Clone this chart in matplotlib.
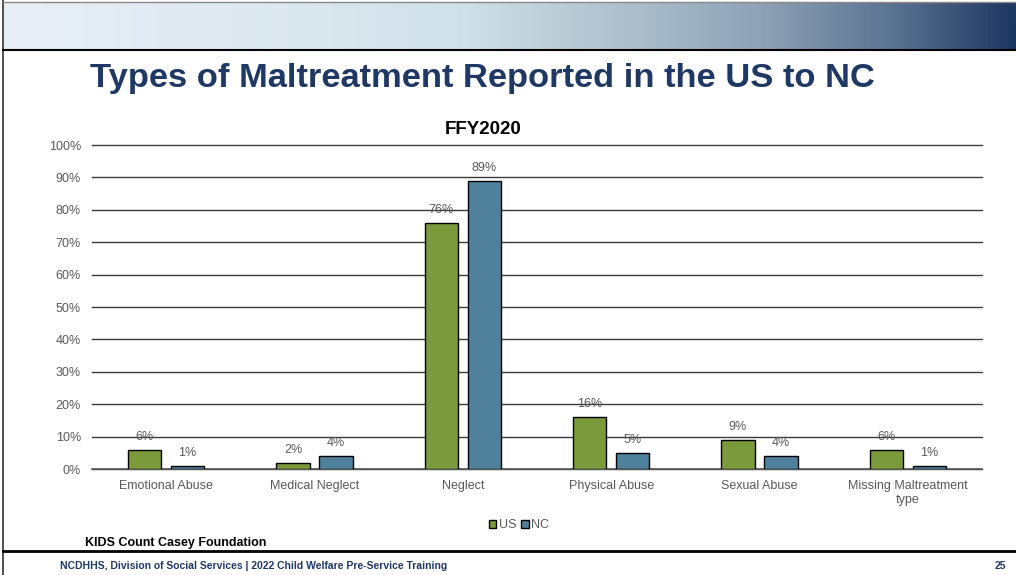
import numpy as np
import matplotlib.pyplot as plt
from matplotlib.colors import LinearSegmentedColormap
from matplotlib.lines import Line2D

plt.rcParams['font.family'] = ['Liberation Sans', 'DejaVu Sans']

# Share of reports by maltreatment type, FFY2020
categories = ['Emotional Abuse', 'Medical Neglect', 'Neglect', 'Physical Abuse',
              'Sexual Abuse', 'Missing Maltreatment\ntype']
us_pct = [6, 2, 76, 16, 9, 6]
nc_pct = [1, 4, 89, 5, 4, 1]
yticks = [0, 10, 20, 30, 40, 50, 60, 70, 80, 90, 100]

green = '#7a9a3c'
blue = '#4f819c'
grey_text = '#595959'
navy = '#1f3864'

fig = plt.figure(figsize=(10.16, 5.75), dpi=100)

# header band with a light-to-navy gradient
hdr = fig.add_axes([3 / 1016, 1 - 50 / 575, 1 - 3 / 1016, 47 / 575])
cmap = LinearSegmentedColormap.from_list(
    'hdr', [(0.0, '#e9eff7'), (0.3, '#dbe7ef'), (0.45, '#d0e1e9'),
            (0.6, '#b2c3cf'), (0.75, '#8ea2b6'), (0.88, '#5a7391'),
            (1.0, '#1c3760')])
hdr.imshow(np.linspace(0, 1, 512)[None, :], aspect='auto', cmap=cmap,
           extent=[0, 1, 0, 1])
hdr.set_axis_off()

# frame lines of the slide
fig.add_artist(Line2D([3 / 1016, 3 / 1016], [0, 1], color='#333333', lw=1.2,
                      transform=fig.transFigure))
fig.add_artist(Line2D([3 / 1016, 1], [1 - 50 / 575] * 2, color='black', lw=1.5,
                      transform=fig.transFigure))
fig.add_artist(Line2D([3 / 1016, 1], [1 - 2 / 575] * 2, color='#888888', lw=1,
                      transform=fig.transFigure))
fig.add_artist(Line2D([3 / 1016, 1], [1 - 551 / 575] * 2, color='black', lw=2,
                      transform=fig.transFigure))

fig.text(90 / 1016, 1 - 79 / 575, 'Types of Maltreatment Reported in the US to NC',
         fontsize=24.8, fontweight='bold', color=navy, va='center', ha='left')

ax = fig.add_axes([92 / 1016, 1 - 469 / 575, 890 / 1016, 324 / 575])
x = np.arange(len(categories))
w = 0.225
off = 0.145
b1 = ax.bar(x - off, us_pct, w, color=green, edgecolor='black', lw=1, label='US', zorder=3)
b2 = ax.bar(x + off, nc_pct, w, color=blue, edgecolor='black', lw=1, label='NC', zorder=3)

for bars, vals in ((b1, us_pct), (b2, nc_pct)):
    for rect, v in zip(bars, vals):
        ax.annotate(f'{v}%', (rect.get_x() + rect.get_width() / 2, v),
                    xytext=(0, 5), textcoords='offset points', ha='center',
                    va='bottom', fontsize=9, color=grey_text, zorder=4)

ax.set_xlim(-0.5, len(categories) - 0.5)
ax.set_ylim(0, 100)
ax.set_yticks(yticks)
ax.set_yticklabels([f'{t}%' for t in yticks])
ax.set_xticks(x)
ax.set_xticklabels(categories)
ax.yaxis.grid(True, color='#3a3a3a', lw=1, zorder=0)
for gl in ax.get_ygridlines():
    gl.set_clip_on(False)
ax.axhline(0, color='#595959', lw=1.2, zorder=2, clip_on=False)
ax.tick_params(axis='both', length=0, labelsize=9, labelcolor=grey_text, pad=8)
ax.tick_params(axis='x', pad=8)
for s in ax.spines.values():
    s.set_visible(False)

fig.text(483 / 1016, 1 - 130 / 575, 'FFY2020', fontsize=13.5, fontweight='bold',
         ha='center', va='center')

ax.legend(loc='upper center', bbox_to_anchor=(0.48, -0.12), ncol=2, frameon=False,
          fontsize=9, labelcolor=grey_text, handlelength=0.6, handleheight=0.6,
          handletextpad=0.2, columnspacing=0.4)

fig.text(85 / 1016, 1 - 543 / 575, 'KIDS Count Casey Foundation', fontsize=9,
         fontweight='bold', va='center')
fig.text(60 / 1016, 1 - 566 / 575,
         'NCDHHS, Division of Social Services | 2022 Child Welfare Pre-Service Training',
         fontsize=7.5, fontweight='bold', color=navy, va='center')
fig.text(1000 / 1016, 1 - 566 / 575, '25', fontsize=7.5, fontweight='bold',
         color=navy, va='center', ha='center')

fig.savefig('out.png', dpi=100)
